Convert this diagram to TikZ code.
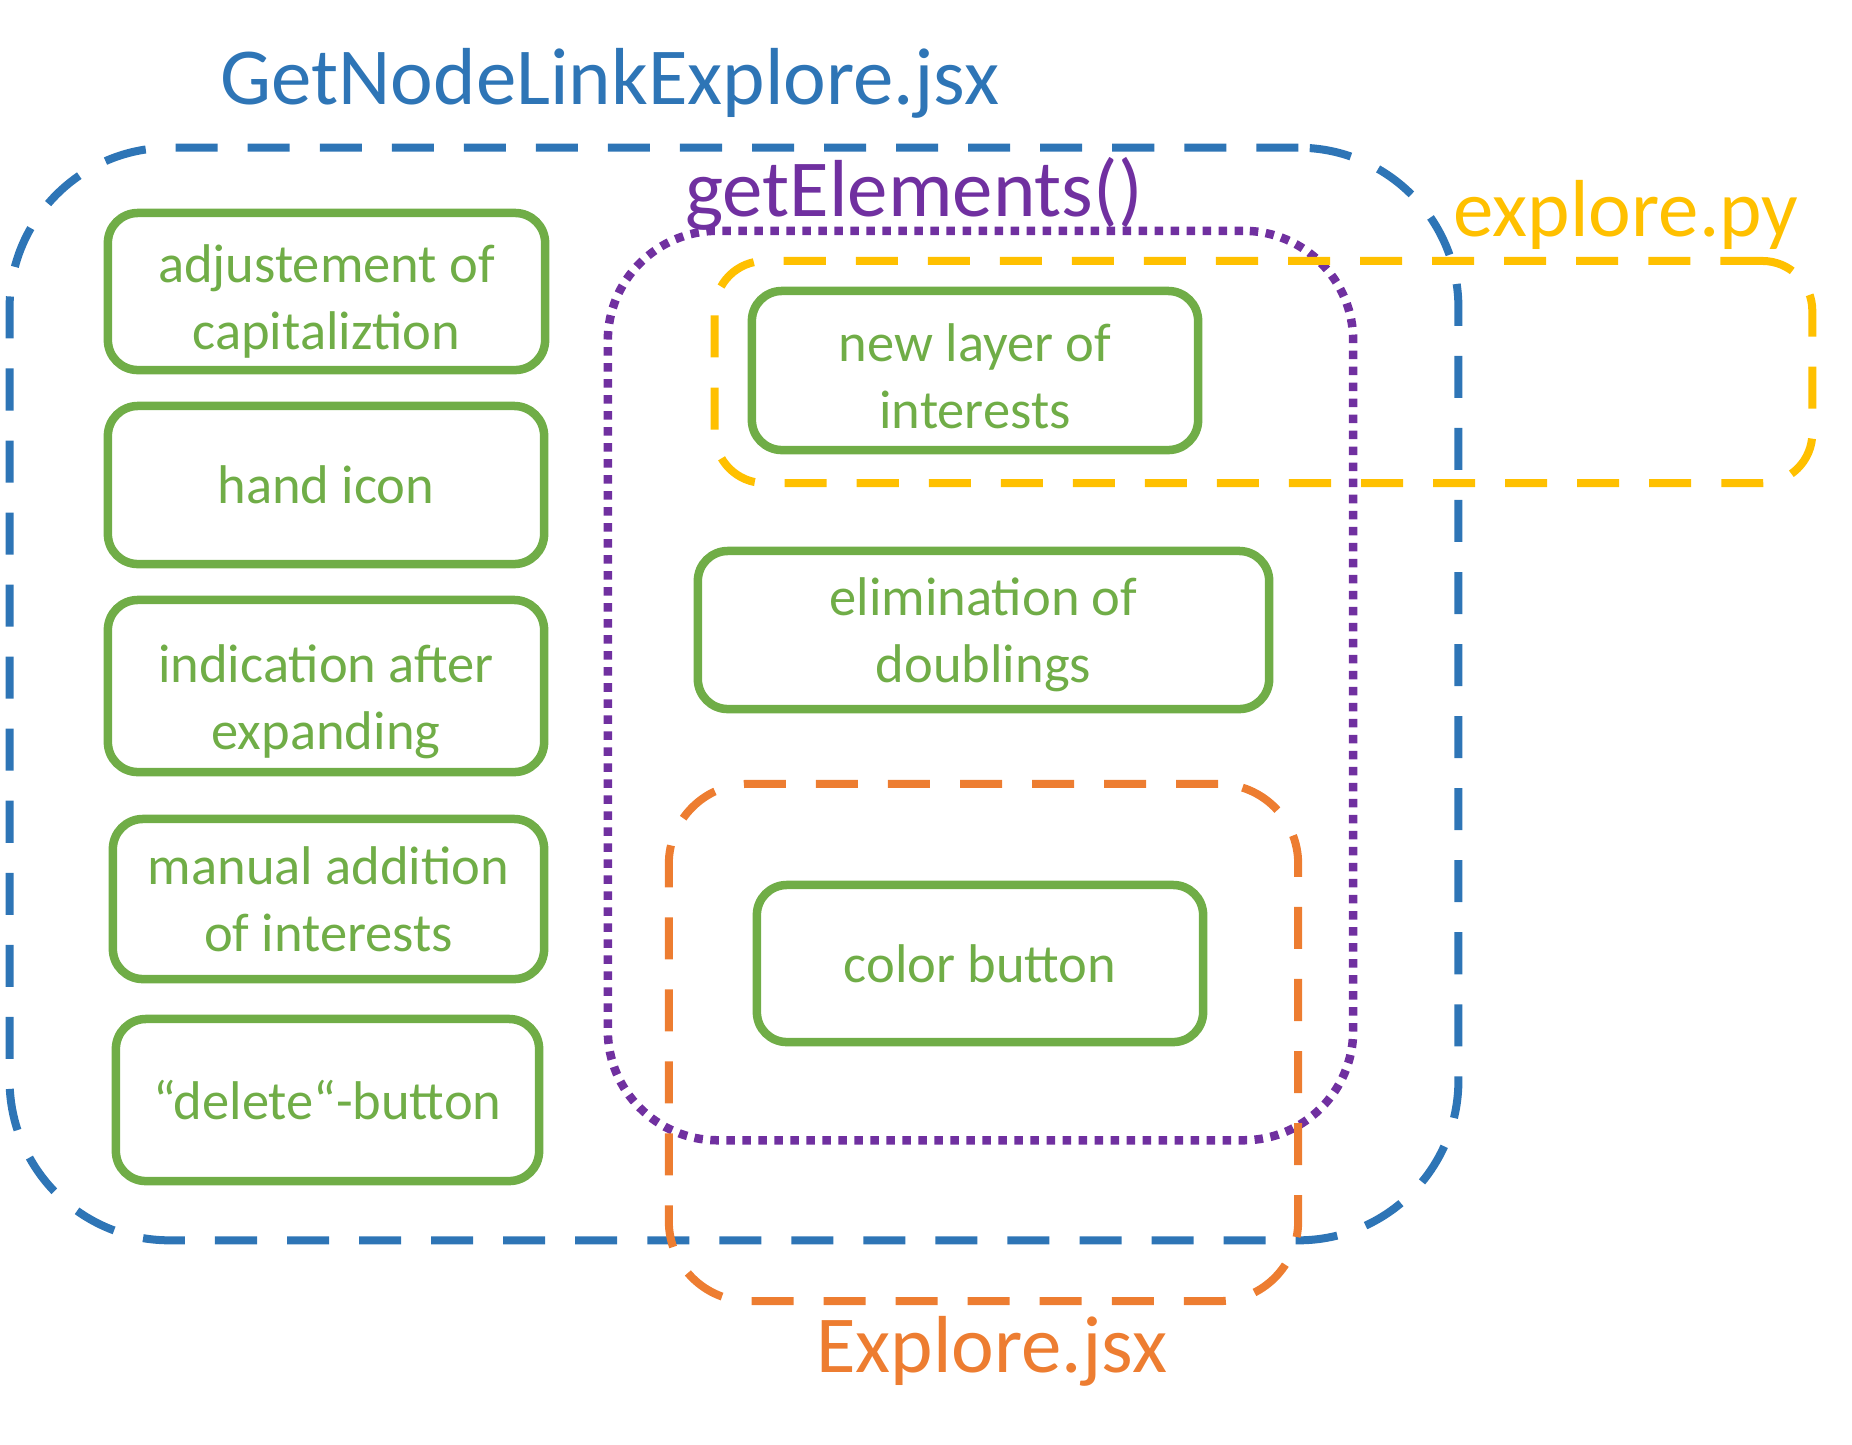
\documentclass[tikz,border=0pt]{standalone}
\usepackage{fontspec}
\setmainfont{Carlito}
\usepackage{xcolor}
\usepackage{tikz}
\usetikzlibrary{positioning}

\definecolor{jsxblue}{HTML}{2E75B6}
\definecolor{fnpurple}{HTML}{7030A0}
\definecolor{pyyellow}{HTML}{FFC000}
\definecolor{jsxorange}{HTML}{ED7D31}
\definecolor{featgreen}{HTML}{70AD47}

\begin{document}
\begin{tikzpicture}[x=0.01cm, y=-0.01cm,
    feature/.style={rectangle, draw=featgreen, line width=0.085cm, rounded corners=0.3cm, text=featgreen, align=center, inner sep=0pt, font=\fontsize{15.5}{19}\selectfont},
    twoline/.style={text depth=0pt, text height=#1},
    twoline/.default=30pt,
    group/.style={rectangle, inner sep=0pt, line width=0.08cm, dash pattern=on 0.42cm off 0.3cm},
    dotgroup/.style={rectangle, inner sep=0pt, line width=0.085cm, dash pattern=on 0.085cm off 0.075cm},
    grouplabel/.style={anchor=base, font=\fontsize{23}{28}\selectfont}
]
    \useasboundingbox (0,0) rectangle (1852,1444);

    % Files and functions
    \node [group, draw=jsxblue, rounded corners=1.6cm, minimum width=14.48cm, minimum height=10.92cm] (gnle) at (734,694) {};
    \node [dotgroup, draw=fnpurple, rounded corners=1.1cm, minimum width=7.45cm, minimum height=9.09cm] (getel) at (980.5,685.5) {};
    \node [group, draw=pyyellow, rounded corners=0.5cm, minimum width=10.97cm, minimum height=2.22cm] (expy) at (1263.5,372) {};
    \node [group, draw=jsxorange, rounded corners=0.8cm, minimum width=6.29cm, minimum height=5.17cm] (exjsx) at (983.5,1042.5) {};

    \node [grouplabel, text=jsxblue] (gnlelabel) at (610,104) {GetNodeLinkExplore.jsx};
    \node [grouplabel, text=fnpurple] (getellabel) at (914,216) {getElements()};
    \node [grouplabel, text=pyyellow] (expylabel) at (1626,236) {explore.py};
    \node [grouplabel, text=jsxorange] (exjsxlabel) at (992,1372) {Explore.jsx};

    % Features
    \node [feature, twoline=33pt, minimum width=4.37cm, minimum height=1.57cm] (capit) at (326.5,291.5) {adjustement of\\capitaliztion};
    \node [feature, minimum width=4.36cm, minimum height=1.58cm] (hand) at (326,485) {hand icon};
    \node [feature, twoline=36pt, minimum width=4.36cm, minimum height=1.72cm] (indic) at (326,686) {indication after\\expanding};
    \node [feature, twoline, minimum width=4.31cm, minimum height=1.60cm] (manual) at (328.5,899) {manual addition\\of interests};
    \node [feature, minimum width=4.23cm, minimum height=1.62cm] (delbtn) at (327.5,1100) {“delete“-button};

    \node [feature, twoline=33pt, minimum width=4.46cm, minimum height=1.59cm] (layer) at (975,370.5) {new layer of\\interests};
    \node [feature, twoline, minimum width=5.71cm, minimum height=1.58cm] (dbl) at (983.5,630) {elimination of\\doublings};
    \node [feature, minimum width=4.46cm, minimum height=1.57cm] (colbtn) at (980,963.5) {color button};
\end{tikzpicture}
\end{document}
